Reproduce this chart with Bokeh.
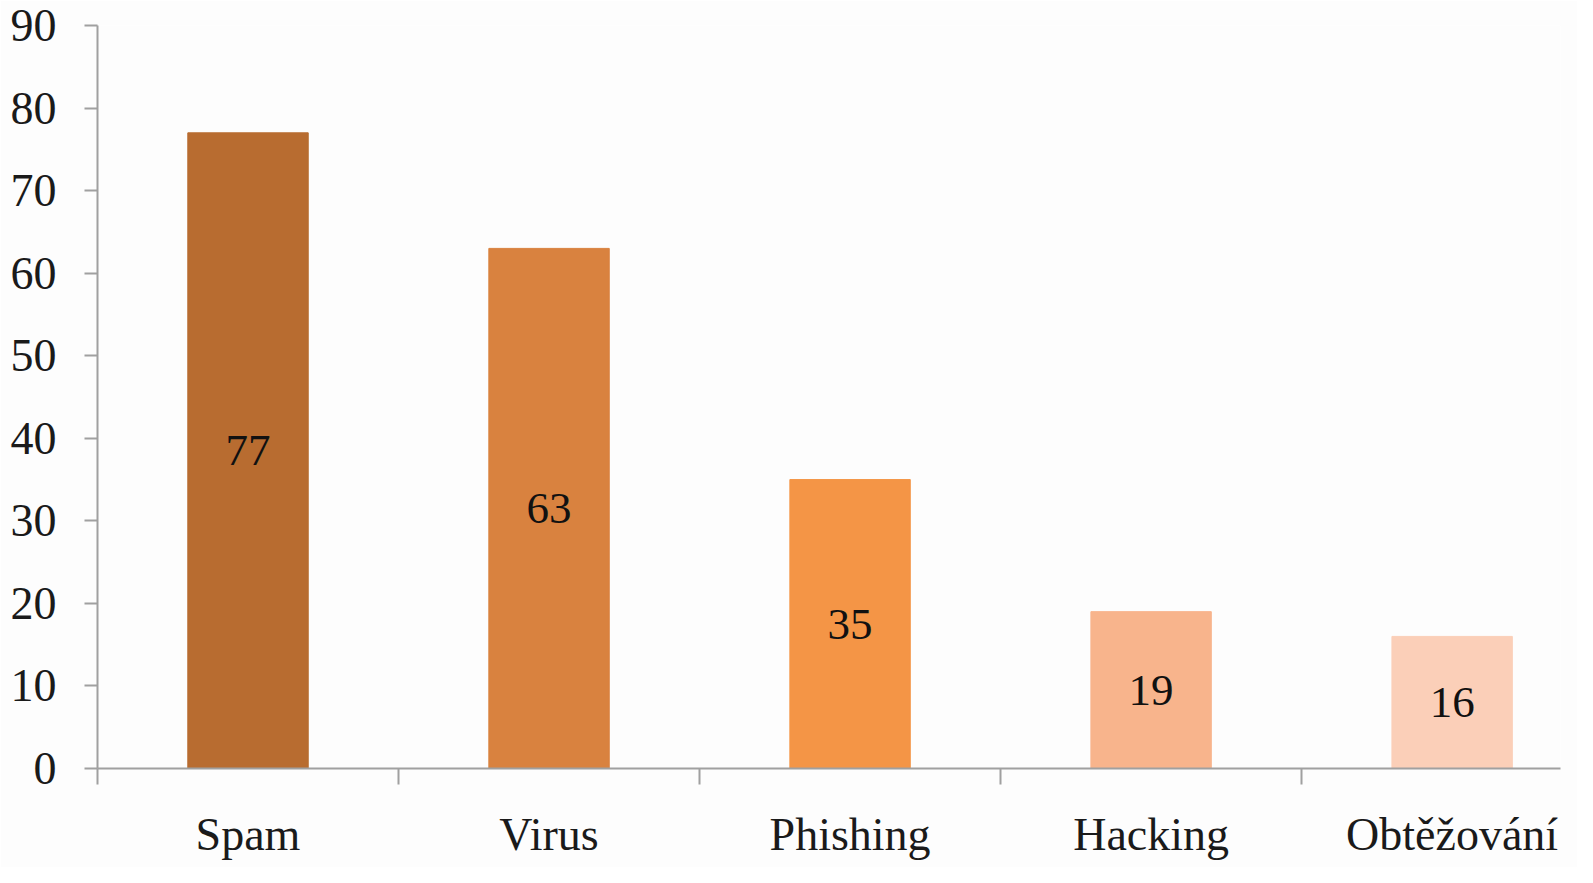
from bokeh.plotting import figure
from bokeh.models import ColumnDataSource, Range1d, FixedTicker, LinearAxis
from bokeh.core.properties import value
from bokeh.embed import file_html
from bokeh.resources import INLINE

categories = ["Spam", "Virus", "Phishing", "Hacking", "Obtěžování"]
values = [77, 63, 35, 19, 16]
colors = ["#b86c30", "#d9823f", "#f49546", "#f8b48c", "#fbcfb8"]
y_ticks = [0, 10, 20, 30, 40, 50, 60, 70, 80, 90]

FONT = "Liberation Serif"

centers = [i + 0.5 for i in range(len(categories))]
src = ColumnDataSource(dict(
    x=centers,
    top=values,
    mid=[v / 2 for v in values],
    label=[str(v) for v in values],
    color=colors,
))

p = figure(width=1577, height=867, output_backend="svg", toolbar_location=None,
           x_range=Range1d(0, 4.86), y_range=Range1d(0, 90),
           min_border_left=97, min_border_top=25, min_border_right=17,
           min_border_bottom=99, x_axis_type=None, y_axis_type=None)
p.background_fill_color = "#fdfdfd"
p.border_fill_color = "#fdfdfd"
p.outline_line_color = None

p.vbar(x="x", top="top", bottom=0, width=0.40, color="color", source=src)
p.text(x="x", y="mid", text="label", source=src, text_align="center",
       text_baseline="middle", text_font=value(FONT), text_font_size="45px",
       text_color="#111111")

yaxis = LinearAxis(ticker=FixedTicker(ticks=y_ticks))
yaxis.axis_line_color = "#a0a0a0"
yaxis.axis_line_width = 2
yaxis.major_tick_line_color = "#a0a0a0"
yaxis.major_tick_line_width = 2
yaxis.major_tick_out = 13
yaxis.major_tick_in = 0
yaxis.minor_tick_line_color = None
yaxis.major_label_standoff = 28
yaxis.major_label_text_font = FONT
yaxis.major_label_text_font_size = "46px"
yaxis.major_label_text_color = "#1a1a1a"
p.add_layout(yaxis, "left")

xaxis = LinearAxis(ticker=FixedTicker(ticks=centers, minor_ticks=[0, 1, 2, 3, 4, 5]))
xaxis.major_label_overrides = {c: n for c, n in zip(centers, categories)}
xaxis.axis_line_color = "#a0a0a0"
xaxis.axis_line_width = 2
xaxis.major_tick_line_color = None
xaxis.major_tick_out = 0
xaxis.major_tick_in = 0
xaxis.minor_tick_line_color = "#a0a0a0"
xaxis.minor_tick_line_width = 2
xaxis.minor_tick_out = 16
xaxis.minor_tick_in = 0
xaxis.major_label_standoff = 24
xaxis.major_label_text_font = FONT
xaxis.major_label_text_font_size = "46px"
xaxis.major_label_text_color = "#1a1a1a"
p.add_layout(xaxis, "below")

p.ygrid.grid_line_color = "#a0a0a0"
p.ygrid.grid_line_width = 2
p.xgrid.grid_line_color = None
p.ygrid.ticker = FixedTicker(ticks=y_ticks)

open("out.html", "w").write(file_html(p, INLINE))
